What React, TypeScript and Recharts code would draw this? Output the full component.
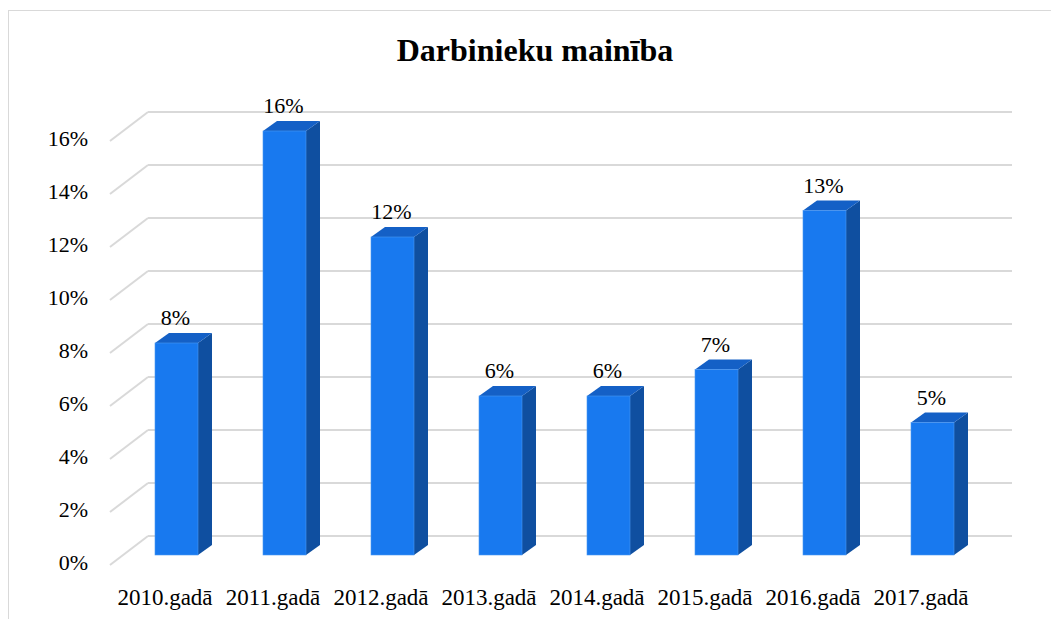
import React from "react";
import { BarChart, Bar, XAxis, YAxis, CartesianGrid, LabelList } from "recharts";

const categories = ["2010.gadā", "2011.gadā", "2012.gadā", "2013.gadā", "2014.gadā", "2015.gadā", "2016.gadā", "2017.gadā"];
const values = [8, 16, 12, 6, 6, 7, 13, 5];
const yTicks = [0, 2, 4, 6, 8, 10, 12, 14, 16];

const data = categories.map((c, i) => ({ name: c, value: values[i] }));

const FONT = '"Liberation Serif", "Times New Roman", serif';
const DX_BACK = 26;
const DY_BACK = 19;
const DX_FRONT = 12;
const DY_FRONT = 10;
const DEPTH_X = 14;
const DEPTH_Y = 10;
const textStyle = { fontFamily: FONT, fontSize: 22 };

const Bar3D = (props: any) => {
  const { x, y, width, height } = props;
  if (height == null || width == null) return null;
  return (
    <g>
      <polygon
        points={`${x + width},${y} ${x + width + DEPTH_X},${y - DEPTH_Y} ${x + width + DEPTH_X},${y + height - DEPTH_Y} ${x + width},${y + height}`}
        fill="#0F4FA0"
      />
      <polygon
        points={`${x},${y} ${x + DEPTH_X},${y - DEPTH_Y} ${x + width + DEPTH_X},${y - DEPTH_Y} ${x + width},${y}`}
        fill="#1460C6"
      />
      <rect x={x} y={y} width={width} height={height} fill="#1879EF" stroke="#4A97F2" strokeWidth={0.6} />
    </g>
  );
};

const gridLine = (p: any) => {
  const { x1, x2, y1, key } = p;
  const bx1 = x1 + DX_BACK;
  const bx2 = x2 + DX_BACK;
  const by = y1 - DY_BACK;
  return (
    <g key={key}>
      <line x1={bx1} y1={by} x2={bx2} y2={by} stroke="#D9D9D9" strokeWidth={2} />
      <line x1={bx1} y1={by} x2={x1 - DX_FRONT} y2={y1 + DY_FRONT} stroke="#D9D9D9" strokeWidth={2} />
    </g>
  );
};

const YTick = (p: any) => {
  const { y, payload } = p;
  return (
    <text x={88} y={y + 7} textAnchor="end" dominantBaseline="central" style={textStyle} fill="#000">
      {`${payload.value}%`}
    </text>
  );
};

const XTick = (p: any) => {
  const { x, y, payload } = p;
  return (
    <text x={x - 11} y={y + 42} textAnchor="middle" style={{ fontFamily: FONT, fontSize: 23 }} fill="#000">
      {payload.value}
    </text>
  );
};

const ValueLabel = (p: any) => {
  const { x, y, width, value } = p;
  return (
    <text x={x + width / 2 - 1} y={y - 18} textAnchor="middle" style={textStyle} fill="#000">
      {`${value}%`}
    </text>
  );
};

export default function App() {
  return (
    <div style={{ position: "absolute", left: 0, top: 0, width: 1051, height: 619, background: "#fff", overflow: "hidden" }}>
      <div style={{ position: "absolute", left: 8, top: 10, width: 1100, height: 700, border: "1px solid #D9D9D9", boxSizing: "border-box" }} />
      <div
        style={{
          position: "absolute",
          left: 285,
          top: 32,
          width: 500,
          textAlign: "center",
          fontFamily: FONT,
          fontWeight: "bold",
          fontSize: 32,
          lineHeight: "36px",
          color: "#000",
        }}
      >
        Darbinieku mainība
      </div>
      <div style={{ position: "absolute", left: 0, top: 0 }}>
        <BarChart width={1051} height={619} data={data} margin={{ top: 131, left: 22, right: 65, bottom: 24 }} barSize={43}>
          <CartesianGrid vertical={false} horizontal={gridLine} />
          <XAxis dataKey="name" axisLine={false} tickLine={false} tick={<XTick />} height={40} interval={0} />
          <YAxis domain={[0, 16]} ticks={yTicks} axisLine={false} tickLine={false} tick={<YTick />} width={100} />
          <Bar dataKey="value" shape={<Bar3D />} isAnimationActive={false}>
            <LabelList dataKey="value" content={<ValueLabel />} />
          </Bar>
        </BarChart>
      </div>
    </div>
  );
}
